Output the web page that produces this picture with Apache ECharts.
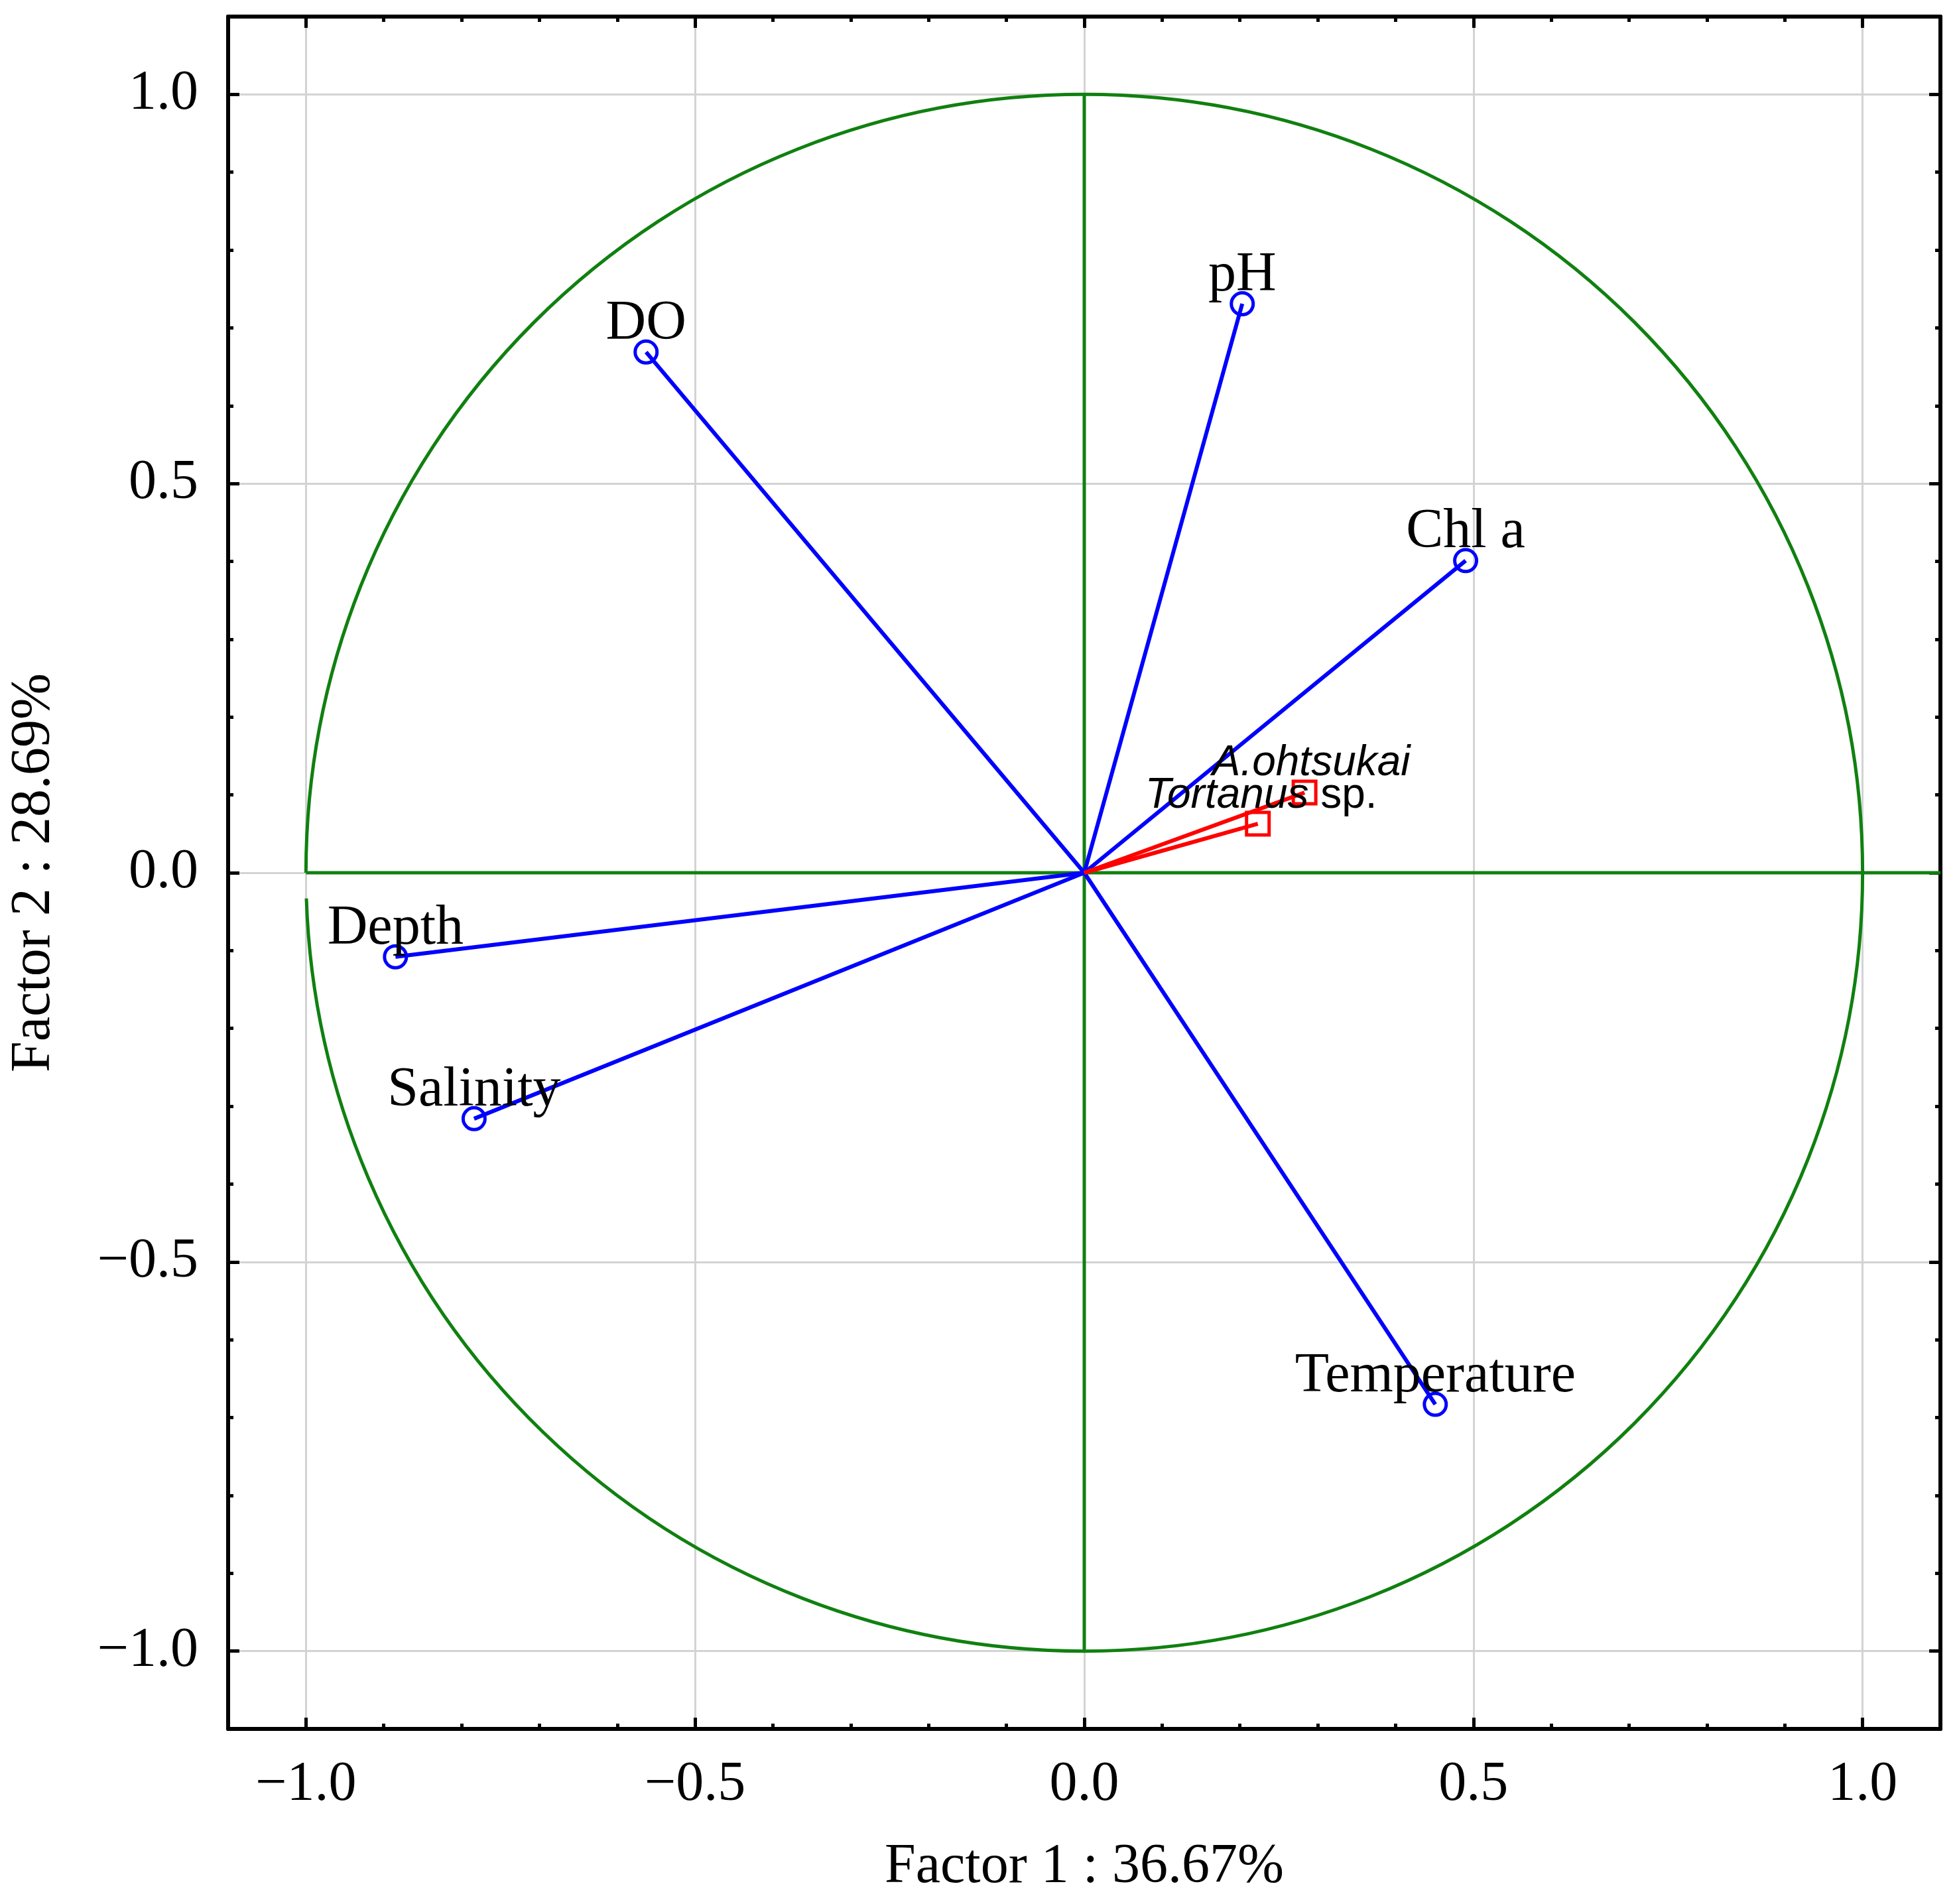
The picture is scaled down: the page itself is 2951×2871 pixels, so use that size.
<!DOCTYPE html>
<html>
<head>
<meta charset="utf-8">
<script src="https://cdn.jsdelivr.net/npm/echarts@6/dist/echarts.min.js"></script>
<style>
    html, body {margin: 0; padding: 0; background: #fff;}
    #pcaChart {width: 2951px; height: 2871px;}
</style>
</head>
<body>
<div id="pcaChart"></div>
<script>
// environmental variables (blue vectors)
var factorNames = ['pH', 'DO', 'Chl a', 'Depth', 'Salinity', 'Temperature'];
var factor1 = [0.203, -0.563, 0.490, -0.885, -0.784, 0.451];
var factor2 = [0.731, 0.669, 0.401, -0.108, -0.316, -0.683];

// species (red vectors)
var speciesNames = ['A.ohtsukai', 'Tortanus sp.'];
var speciesF1 = [0.283, 0.223];
var speciesF2 = [0.103, 0.063];

// axes
var axisMin = -1.1, axisMax = 1.1;
var majorTicks = [-1.0, -0.5, 0.0, 0.5, 1.0];
var minorStep = 0.1;
var xTitle = 'Factor 1 : 36.67%';
var yTitle = 'Factor 2 : 28.69%';

// unit circle and its cross lines
var circleCenter = [0, 0];
var circleRadius = 1;
var circleGapEnd = -0.033;   // lower arc starts a little below the x axis
var crossH = [[-1, 0], [1.1, 0]];
var crossV = [[0, -1], [0, 1]];

var serifFont = 'Liberation Serif';
var sansFont = 'Liberation Sans';
var speciesLabelShift = [[10, -44], [5, -42]];

function tickText(v) {
    if (Math.abs(v) < 1e-9) return '0.0';
    return (v < 0 ? '\u2212' : '') + Math.abs(v).toFixed(1);
}

function majorAxis(pos, isMain) {
    return {
        type: 'value',
        position: pos,
        min: axisMin,
        max: axisMax,
        name: isMain ? (pos === 'bottom' ? xTitle : yTitle) : '',
        nameLocation: 'middle',
        nameGap: pos === 'bottom' ? 167 : 250,
        nameTextStyle: {fontFamily: serifFont, fontSize: 84, color: '#000'},
        axisLine: {show: true, onZero: false, lineStyle: {color: '#000', width: 6}},
        axisTick: {show: true, inside: true, length: 17, customValues: majorTicks,
            lineStyle: {color: '#000', width: 5}},
        axisLabel: {show: isMain, customValues: majorTicks, margin: pos === 'bottom' ? 43 : 45,
            fontFamily: serifFont, fontSize: 84, color: '#000', formatter: tickText},
        splitLine: {show: isMain, lineStyle: {color: '#d3d3d3', width: 3}}
    };
}

function minorAxis(pos) {
    return {
        type: 'value',
        position: pos,
        min: axisMin,
        max: axisMax,
        interval: minorStep,
        axisLine: {show: false, onZero: false},
        axisTick: {show: true, inside: true, length: 8, lineStyle: {color: '#000', width: 5}},
        axisLabel: {show: false},
        splitLine: {show: false}
    };
}

var series = [];

// unit circle
series.push({
    type: 'custom',
    silent: true,
    z: 1,
    data: [circleCenter],
    renderItem: function (params, api) {
        var c = api.coord(circleCenter);
        var r = api.size([circleRadius, circleRadius])[0];
        var gap = Math.asin(-circleGapEnd / circleRadius);
        return {
            type: 'arc',
            shape: {cx: c[0], cy: c[1], r: r, startAngle: Math.PI, endAngle: 3 * Math.PI - gap, clockwise: true},
            style: {stroke: '#108010', fill: 'none', lineWidth: 5}
        };
    }
});

[crossH, crossV].forEach(function (seg) {
    series.push({
        type: 'line', data: seg, showSymbol: false, silent: true, z: 1,
        lineStyle: {color: '#108010', width: 5}
    });
});

// blue vectors
for (var i = 0; i < factorNames.length; i++) {
    series.push({
        type: 'line', data: [[0, 0], [factor1[i], factor2[i]]], showSymbol: false, silent: true, z: 3,
        lineStyle: {color: '#0000ff', width: 6}
    });
}
// red vectors
for (var j = 0; j < speciesNames.length; j++) {
    series.push({
        type: 'line', data: [[0, 0], [speciesF1[j], speciesF2[j]]], showSymbol: false, silent: true, z: 3,
        lineStyle: {color: '#ff0000', width: 6}
    });
}

series.push({
    type: 'scatter',
    z: 5,
    symbol: 'circle',
    symbolSize: 33,
    itemStyle: {color: 'rgba(0,0,0,0)', borderColor: '#0000ff', borderWidth: 5, opacity: 1},
    label: {
        show: true, position: 'inside', offset: [0, -42], formatter: '{b}',
        fontFamily: serifFont, fontSize: 84, color: '#000'
    },
    data: factorNames.map(function (n, k) {
        return {name: n, value: [factor1[k], factor2[k]]};
    })
});

series.push({
    type: 'scatter',
    z: 5,
    symbol: 'rect',
    symbolSize: 34,
    itemStyle: {color: 'rgba(0,0,0,0)', borderColor: '#ff0000', borderWidth: 5, opacity: 1},
    data: speciesNames.map(function (n, k) {
        return {
            name: n,
            value: [speciesF1[k], speciesF2[k]],
            label: {offset: speciesLabelShift[k]}
        };
    }),
    label: {
        show: true, position: 'inside',
        fontFamily: sansFont, fontSize: 64, color: '#000',
        formatter: function (p) {
            var parts = p.name.split(' ');
            var s = '{i|' + parts[0] + '}';
            if (parts.length > 1) s += '{n| ' + parts.slice(1).join(' ') + '}';
            return s;
        },
        rich: {
            i: {fontFamily: sansFont, fontStyle: 'italic', fontSize: 64, color: '#000'},
            n: {fontFamily: sansFont, fontSize: 64, color: '#000'}
        }
    }
});

var option = {
    backgroundColor: '#fff',
    animation: false,
    grid: {left: 344, right: 25, top: 25, bottom: 264},
    xAxis: [majorAxis('bottom', true), minorAxis('bottom'), majorAxis('top', false), minorAxis('top')],
    yAxis: [majorAxis('left', true), minorAxis('left'), majorAxis('right', false), minorAxis('right')],
    series: series
};

var pcaChart = echarts.init(document.getElementById('pcaChart'));
pcaChart.setOption(option);
</script>
</body>
</html>
